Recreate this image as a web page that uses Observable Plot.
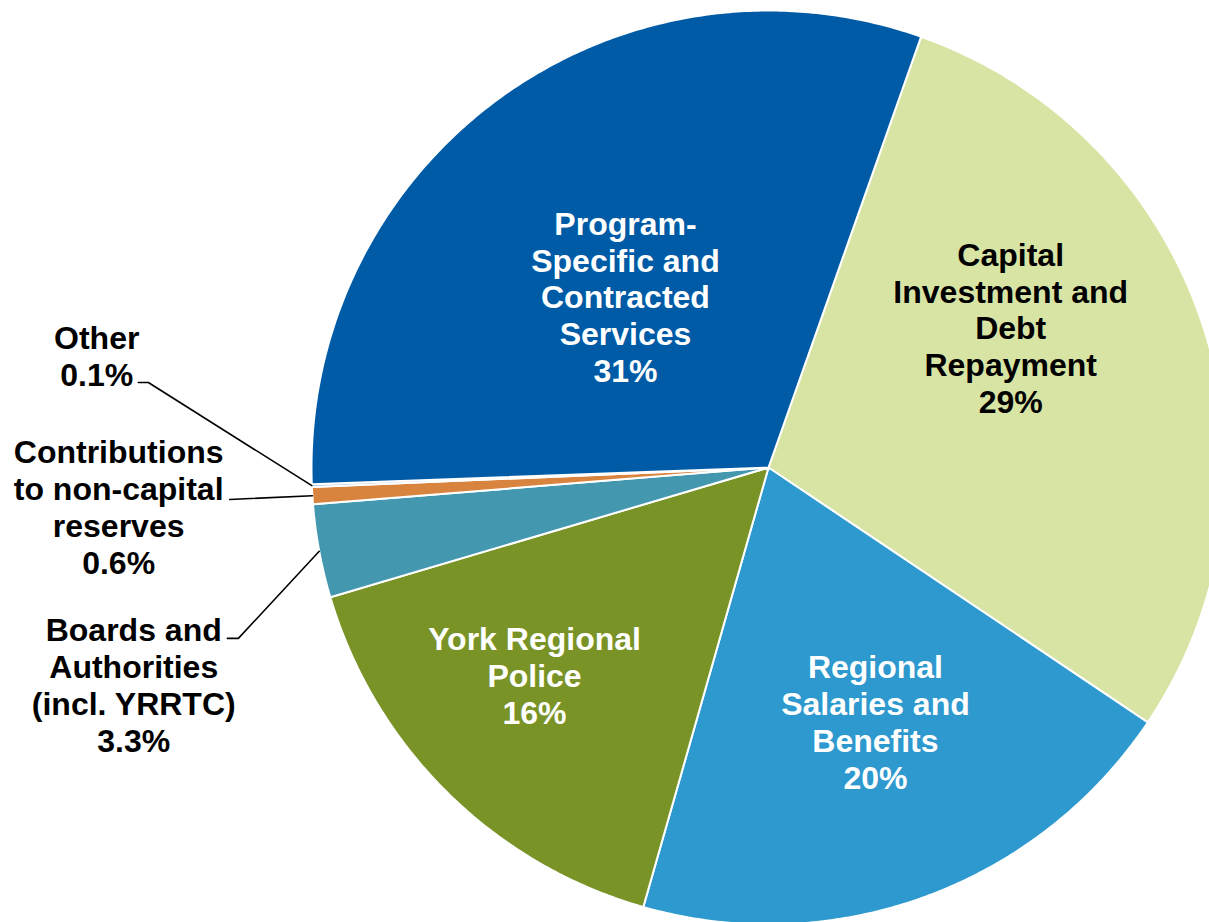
<!DOCTYPE html>
<html>
<head>
<meta charset="utf-8">
<script src="https://cdn.jsdelivr.net/npm/d3@7"></script>
<script src="https://cdn.jsdelivr.net/npm/@observablehq/plot@0.6"></script>
<style>
  html, body { margin: 0; padding: 0; background: #ffffff; overflow: hidden; }
  #chart svg { display: block; overflow: hidden; }
</style>
</head>
<body>
<div id="chart"></div>
<script>
// ---------------- DATA ----------------
const categories = [
  "Capital Investment and Debt Repayment",
  "Regional Salaries and Benefits",
  "York Regional Police",
  "Boards and Authorities (incl. YRRTC)",
  "Contributions to non-capital reserves",
  "Other",
  "Program-Specific and Contracted Services"
];
const shares = [29, 20, 16, 3.3, 0.6, 0.1, 31];   // percent of total
const labelLines = [
  ["Capital", "Investment and", "Debt", "Repayment"],
  ["Regional", "Salaries and", "Benefits"],
  ["York Regional", "Police"],
  ["Boards and", "Authorities", "(incl. YRRTC)"],
  ["Contributions", "to non-capital", "reserves"],
  ["Other"],
  ["Program-", "Specific and", "Contracted", "Services"]
];

// ---------------- STYLE / LAYOUT ----------------
const sliceColors = ["#d7e4a4", "#2e99ce", "#7a9326", "#4398b0", "#d8843f", "#9fb8e2", "#005ba6"];
const textColors  = ["black", "white", "white", "black", "black", "black", "white"];
const W = 1209, H = 922, CX = 768, CY = 467, R = 457;
const START = 19.5 * Math.PI / 180;
// label anchors in pie-radius units, relative to the pie centre (y up)
const labelAt = [
  [0.530, 0.306], [0.234, -0.556], [-0.512, -0.454],
  [-1.389, -0.475], [-1.422, -0.086], [-1.470, 0.245], [-0.313, 0.374]
];
// leader line bends/ends for outside labels (null = no leader)
const leaderAt = [
  null, null, null,
  [[-1.160, -0.374], [-1.184, -0.374]],
  [[-1.179, -0.070]],
  [[-1.357, 0.186], [-1.379, 0.186]],
  null
];

// ---------------- GEOMETRY ----------------
const arcs = d3.pie().sort(null).value(d => d)
  .startAngle(START).endAngle(START + 2 * Math.PI)(shares);

const slicePts = [];
arcs.forEach((a, i) => {
  const name = categories[i];
  slicePts.push({name, x: 0, y: 0});
  const n = Math.max(2, Math.ceil((a.endAngle - a.startAngle) / (Math.PI / 360)));
  for (let k = 0; k <= n; k++) {
    const t = a.startAngle + (a.endAngle - a.startAngle) * k / n;
    slicePts.push({name, x: Math.sin(t), y: Math.cos(t)});
  }
  slicePts.push({name, x: 0, y: 0});
});

const leaderPts = [];
arcs.forEach((a, i) => {
  if (!leaderAt[i]) return;
  const m = (a.startAngle + a.endAngle) / 2;
  const name = categories[i];
  leaderPts.push({name, x: Math.sin(m), y: Math.cos(m)});
  leaderAt[i].forEach(([x, y]) => leaderPts.push({name, x, y}));
});

const labels = categories.map((c, i) => ({
  name: c,
  x: labelAt[i][0],
  y: labelAt[i][1],
  text: labelLines[i].join("\n") + "\n" + shares[i] + "%",
  color: textColors[i]
}));

const textOpts = {
  x: "x", y: "y", text: "text",
  fontSize: 32, fontWeight: "bold", lineHeight: 1.15,
  textAnchor: "middle", lineAnchor: "middle"
};

const chart = Plot.plot({
  width: W,
  height: H,
  margin: 0,
  x: {domain: [-CX / R, (W - CX) / R], axis: null},
  y: {domain: [-(H - CY) / R, CY / R], axis: null},
  color: {domain: categories, range: sliceColors},
  style: {fontFamily: "'Liberation Sans', Arial, sans-serif", background: "#ffffff", overflow: "hidden"},
  marks: [
    Plot.line(slicePts, {
      x: "x", y: "y", z: "name", fill: "name",
      stroke: "white", strokeWidth: 2, strokeLinejoin: "round", clip: true
    }),
    Plot.line(leaderPts, {x: "x", y: "y", z: "name", stroke: "black", strokeWidth: 1.6}),
    Plot.text(labels.filter(d => d.color === "white"), {...textOpts, fill: "white"}),
    Plot.text(labels.filter(d => d.color === "black"), {...textOpts, fill: "black"})
  ]
});
document.getElementById("chart").append(chart);
</script>
</body>
</html>
